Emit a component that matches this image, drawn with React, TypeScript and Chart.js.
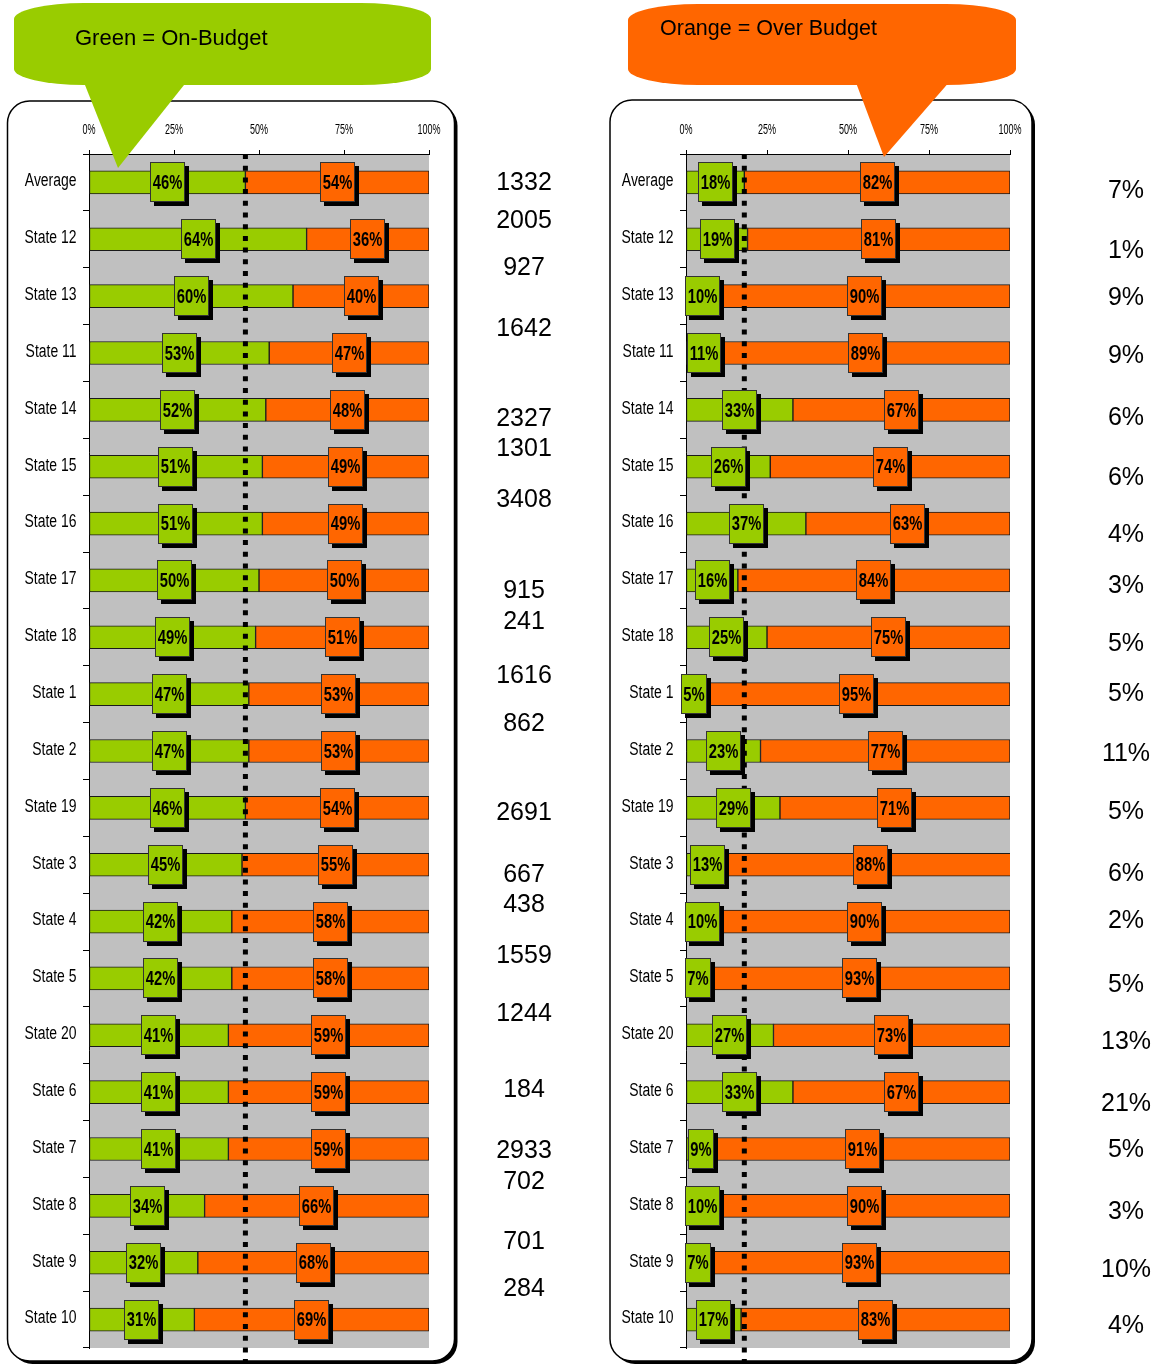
import React, { useEffect, useRef } from 'react';
import { Chart, registerables } from 'chart.js';

Chart.register(...registerables);

// ---------- data ----------
const categories = [
  'Average', 'State 12', 'State 13', 'State 11', 'State 14', 'State 15', 'State 16',
  'State 17', 'State 18', 'State 1', 'State 2', 'State 19', 'State 3', 'State 4',
  'State 5', 'State 20', 'State 6', 'State 7', 'State 8', 'State 9', 'State 10',
];
const leftOnBudget = [46, 64, 60, 53, 52, 51, 51, 50, 49, 47, 47, 46, 45, 42, 42, 41, 41, 41, 34, 32, 31];
const leftOverBudget = [54, 36, 40, 47, 48, 49, 49, 50, 51, 53, 53, 54, 55, 58, 58, 59, 59, 59, 66, 68, 69];
const rightOnBudget = [18, 19, 10, 11, 33, 26, 37, 16, 25, 5, 23, 29, 13, 10, 7, 27, 33, 9, 10, 7, 17];
const rightOverBudget = [82, 81, 90, 89, 67, 74, 63, 84, 75, 95, 77, 71, 88, 90, 93, 73, 67, 91, 90, 93, 83];
const projectCounts = [1332, 2005, 927, 1642, 2327, 1301, 3408, 915, 241, 1616, 862, 2691, 667, 438, 1559, 1244, 184, 2933, 702, 701, 284];
const sharePercents = [7, 1, 9, 9, 6, 6, 4, 3, 5, 5, 11, 5, 6, 2, 5, 13, 21, 5, 3, 10, 4];
const axisTicks = [0, 25, 50, 75, 100];
const greenLabel = 'Green = On-Budget';
const orangeLabel = 'Orange = Over Budget';

// ---------- layout (pixel offsets of side texts relative to each row centre) ----------
const countOffsets = [1, -18, -28, -24, 9, -18, -23, 11, -15, -18, -27, 5, 10, -16, -22, -21, -2, 2, -24, -21, -30];
const shareOffsets = [9, 12, 2, 3, 8, 11, 12, 6, 7, 0, 3, 4, 9, 0, 7, 7, 12, 1, 6, 7, 7];

const GREEN = '#99CC00';
const ORANGE = '#FF6600';
const SANS = '"Liberation Sans", Arial, sans-serif';
const NARROW_X = 0.82; // Arial Narrow ≈ Arial compressed horizontally

type Cfg = {
  green: number[];
  orange: number[];
  padLeft: number;
  padRight: number;
  sideValues: string[];
  sideOffsets: number[];
  sideX: number;
};

function narrowText(ctx: any, text: string, x: number, y: number, font: string, align: string, sy: number) {
  ctx.save();
  ctx.font = font;
  ctx.fillStyle = '#000';
  ctx.textAlign = align;
  ctx.textBaseline = 'middle';
  ctx.translate(x, y);
  ctx.scale(NARROW_X, sy);
  ctx.fillText(text, 0, 0);
  ctx.restore();
}

function buildChart(canvas: HTMLCanvasElement, cfg: Cfg) {
  const plotBg = {
    id: 'plotBg',
    beforeDraw(chart: any) {
      const { ctx, chartArea: a } = chart;
      ctx.save();
      ctx.fillStyle = '#C0C0C0';
      ctx.fillRect(a.left, a.top, a.right - a.left, a.bottom - a.top);
      ctx.restore();
    },
  };
  const overlay = {
    id: 'overlay',
    afterDraw(chart: any) {
      const { ctx, chartArea: a } = chart;
      const xs = chart.scales.x;
      const ys = chart.scales.y;
      // axis labels (narrow)
      chart.data.labels.forEach((lab: string, i: number) => {
        narrowText(ctx, lab, a.left - 12.5, ys.getPixelForValue(i) - 1, '17px ' + SANS, 'right', 1.05);
      });
      axisTicks.forEach((v) => {
        narrowText(ctx, v + '%', xs.getPixelForValue(v), a.top - 24, '11px ' + SANS, 'center', 1.25);
      });
      // dotted average line
      const avgX = xs.getPixelForValue(cfg.green[0]);
      ctx.save();
      ctx.strokeStyle = '#000';
      ctx.lineWidth = 5;
      ctx.setLineDash([5, 6.7]);
      ctx.beginPath();
      ctx.moveTo(avgX, a.top);
      ctx.lineTo(avgX, chart.height);
      ctx.stroke();
      ctx.restore();
      // label boxes
      chart.data.datasets.forEach((ds: any, di: number) => {
        const meta = chart.getDatasetMeta(di);
        meta.data.forEach((el: any, i: number) => {
          const { x, base, y } = el.getProps(['x', 'base', 'y'], true);
          const cx = (x + base) / 2;
          const text = ds.data[i] + '%';
          const font = 'bold 18px ' + SANS;
          ctx.save();
          ctx.font = font;
          const tw = ctx.measureText(text).width * NARROW_X;
          const w = Math.round(tw + 5);
          const h = 40;
          const left = Math.round(cx - w / 2);
          const top = Math.round(y - h / 2);
          ctx.fillStyle = '#000';
          ctx.fillRect(left + 4, top + 4, w, h);
          ctx.fillStyle = ds.backgroundColor;
          ctx.fillRect(left, top, w, h);
          ctx.strokeStyle = '#333';
          ctx.lineWidth = 1;
          ctx.strokeRect(left + 0.5, top + 0.5, w - 1, h - 1);
          ctx.restore();
          narrowText(ctx, text, left + w / 2, y + 1, font, 'center', 1.15);
        });
      });
      // side column texts
      ctx.save();
      ctx.font = '25px ' + SANS;
      ctx.fillStyle = '#000';
      ctx.textAlign = 'center';
      ctx.textBaseline = 'middle';
      cfg.sideValues.forEach((t, i) => {
        ctx.fillText(t, cfg.sideX, ys.getPixelForValue(i) + cfg.sideOffsets[i]);
      });
      ctx.restore();
    },
  };

  return new Chart(canvas, {
    type: 'bar',
    data: {
      labels: categories,
      datasets: [
        {
          data: cfg.green,
          backgroundColor: GREEN,
          borderColor: '#1a1a1a',
          borderWidth: 1,
          borderSkipped: false,
          barThickness: 23,
        },
        {
          data: cfg.orange,
          backgroundColor: ORANGE,
          borderColor: '#1a1a1a',
          borderWidth: 1,
          borderSkipped: false,
          barThickness: 23,
        },
      ],
    },
    options: {
      responsive: false,
      animation: false,
      indexAxis: 'y',
      layout: { padding: { left: cfg.padLeft, right: cfg.padRight, top: 114, bottom: 18 } },
      plugins: { legend: { display: false }, tooltip: { enabled: false } },
      scales: {
        x: {
          type: 'linear',
          position: 'top',
          stacked: true,
          min: 0,
          max: 100,
          afterBuildTicks: (s: any) => {
            s.ticks = axisTicks.map((v) => ({ value: v }));
          },
          ticks: { display: false },
          grid: { drawOnChartArea: false, drawTicks: true, tickLength: 4, color: '#000' },
          border: { display: true, color: '#000', width: 1 },
          afterFit: (s: any) => {
            s.height = 40;
          },
        },
        y: {
          type: 'category',
          stacked: true,
          ticks: { display: false, autoSkip: false },
          grid: { drawOnChartArea: false, drawTicks: true, tickLength: 6, color: '#000', offset: true },
          border: { display: true, color: '#000', width: 1 },
          afterFit: (s: any) => {
            s.width = 80;
          },
        },
      },
    } as any,
    plugins: [plotBg, overlay],
  });
}

export default function App() {
  const leftRef = useRef<HTMLCanvasElement>(null);
  const rightRef = useRef<HTMLCanvasElement>(null);

  useEffect(() => {
    const c1 = buildChart(leftRef.current!, {
      green: leftOnBudget,
      orange: leftOverBudget,
      padLeft: 9,
      padRight: 149,
      sideValues: projectCounts.map(String),
      sideOffsets: countOffsets,
      sideX: 524,
    });
    const c2 = buildChart(rightRef.current!, {
      green: rightOnBudget,
      orange: rightOverBudget,
      padLeft: 28,
      padRight: 147,
      sideValues: sharePercents.map((v) => v + '%'),
      sideOffsets: shareOffsets,
      sideX: 1126 - 578,
    });
    return () => {
      c1.destroy();
      c2.destroy();
    };
  }, []);

  return (
    <div style={{ position: 'absolute', left: 0, top: 0, width: 1157, height: 1366, overflow: 'hidden', background: '#fff' }}>
      <svg width={1157} height={1366} style={{ position: 'absolute', left: 0, top: 0 }}>
        <rect x={10.5} y={104} width={447} height={1260} rx={22} fill="#000" />
        <rect x={7.5} y={101} width={447} height={1260} rx={22} fill="#fff" stroke="#000" strokeWidth={1.5} />
        <rect x={613} y={103} width={422} height={1261} rx={22} fill="#000" />
        <rect x={610} y={100} width={422} height={1261} rx={22} fill="#fff" stroke="#000" strokeWidth={1.5} />
      </svg>
      <canvas ref={leftRef} width={578} height={1366} style={{ position: 'absolute', left: 0, top: 0, width: 578, height: 1366 }} />
      <canvas ref={rightRef} width={579} height={1366} style={{ position: 'absolute', left: 578, top: 0, width: 579, height: 1366 }} />
      <svg width={1157} height={1366} style={{ position: 'absolute', left: 0, top: 0, pointerEvents: 'none' }}>
        <rect x={14} y={3} width={417} height={82} rx={70} ry={16} fill={GREEN} />
        <polygon points="83,80 188,80 118,168" fill={GREEN} />
        <text x={75} y={37} dominantBaseline="central" fontSize={22} fontFamily={SANS} fill="#000">{greenLabel}</text>
        <rect x={628} y={4} width={388} height={81} rx={70} ry={16} fill={ORANGE} />
        <polygon points="855,80 951,80 884,157" fill={ORANGE} />
        <text x={660} y={28} dominantBaseline="central" fontSize={21.5} fontFamily={SANS} fill="#000">{orangeLabel}</text>
      </svg>
    </div>
  );
}
